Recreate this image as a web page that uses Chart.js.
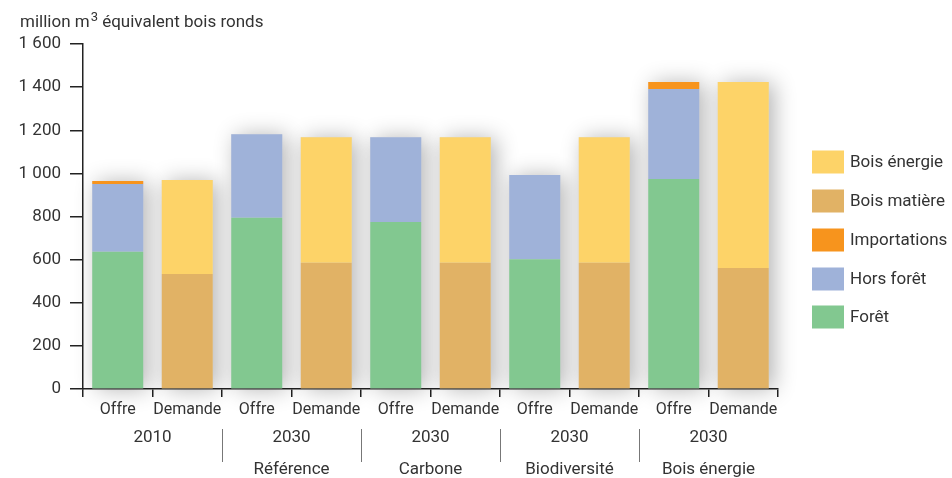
<!DOCTYPE html>
<html>
<head>
<meta charset="utf-8">
<script src="https://cdn.jsdelivr.net/npm/chart.js@4.4.1/dist/chart.umd.min.js"></script>
<style>
  body { margin: 0; background: #fff; }
  #wrap { width: 952px; height: 478px; position: relative; }
</style>
</head>
<body>
<div id="wrap"><canvas id="bois" width="952" height="478"></canvas></div>
<script>
// categories (bas de l'axe)
const categories = ['Offre', 'Demande', 'Offre', 'Demande', 'Offre', 'Demande', 'Offre', 'Demande', 'Offre', 'Demande'];
const annees = ['2010', '2030', '2030', '2030', '2030'];
const scenarios = ['', 'Référence', 'Carbone', 'Biodiversité', 'Bois énergie'];

// valeurs en million m3
const foret       = [637, null, 794, null, 774, null, 602, null, 974, null];
const horsForet   = [314, null, 388, null, 394, null, 390, null, 417, null];
const importations= [14,  null, 0,   null, 0,   null, 0,   null, 33,  null];
const boisMatiere = [null, 533, null, 585, null, 585, null, 585, null, 561];
const boisEnergie = [null, 436, null, 583, null, 583, null, 583, null, 863];

const yTicks = [0, 200, 400, 600, 800, 1000, 1200, 1400, 1600];

const couleurs = {
  foret: '#82c890',
  hors: '#9fb2d9',
  imp: '#f7941d',
  matiere: '#e1b265',
  energie: '#fdd368'
};

const legende = [
  ['Bois énergie', couleurs.energie],
  ['Bois matière', couleurs.matiere],
  ['Importations', couleurs.imp],
  ['Hors forêt', couleurs.hors],
  ['Forêt', couleurs.foret]
];

const police = 'Roboto, "Liberation Sans", sans-serif';
const texte = '#333';

function sepMilliers(v) {
  return String(v).replace(/\B(?=(\d{3})+(?!\d))/g, ' ');
}

// ombre portée derrière chaque pile de barres
const ombre = {
  id: 'ombre',
  beforeDatasetsDraw(chart) {
    const ctx = chart.ctx;
    const n = categories.length;
    ctx.save();
    ctx.fillStyle = '#dcdde0';
    ctx.shadowColor = 'rgba(0,0,0,0.30)';
    ctx.shadowBlur = 22;
    ctx.shadowOffsetX = 5;
    ctx.shadowOffsetY = 1;
    for (let i = 0; i < n; i++) {
      let top = Infinity, base = -Infinity, x = null, w = null;
      chart.data.datasets.forEach((ds, d) => {
        const el = chart.getDatasetMeta(d).data[i];
        if (ds.data[i] == null || !el) return;
        top = Math.min(top, el.y, el.base);
        base = Math.max(base, el.y, el.base);
        x = el.x; w = el.width;
      });
      if (x == null) continue;
      ctx.fillRect(x - w / 2, top, w, base - top);
    }
    ctx.restore();
  }
};

// titre, légende, libellés de groupes
const decor = {
  id: 'decor',
  afterDraw(chart) {
    const ctx = chart.ctx;
    const xs = chart.scales.x;
    ctx.save();
    ctx.fillStyle = texte;
    ctx.textBaseline = 'alphabetic';
    ctx.textAlign = 'left';
    // titre de l'axe
    ctx.font = '17px ' + police;
    let tx = 20;
    ctx.fillText('million m', tx, 27);
    tx += ctx.measureText('million m').width + 1;
    ctx.font = '13px ' + police;
    ctx.fillText('3', tx, 21);
    tx += ctx.measureText('3').width;
    ctx.font = '17px ' + police;
    ctx.fillText(' équivalent bois ronds', tx, 27);

    // légende
    const ly = [162, 201, 240, 279, 317];
    ctx.font = '17px ' + police;
    ctx.textBaseline = 'middle';
    legende.forEach((l, k) => {
      ctx.fillStyle = l[1];
      ctx.fillRect(812, ly[k] - 11.5, 32, 23);
      ctx.fillStyle = texte;
      ctx.fillText(l[0], 850, ly[k] + 1);
    });

    // années et scénarios
    ctx.textAlign = 'center';
    for (let g = 0; g < annees.length; g++) {
      const xc = (xs.getPixelForValue(2 * g) + xs.getPixelForValue(2 * g + 1)) / 2;
      ctx.fillText(annees[g], xc, 438);
      if (scenarios[g]) ctx.fillText(scenarios[g], xc, 470);
    }
    // séparateurs
    ctx.strokeStyle = '#777';
    ctx.lineWidth = 1;
    for (let g = 1; g < annees.length; g++) {
      const xb = Math.round((xs.getPixelForValue(2 * g - 1) + xs.getPixelForValue(2 * g)) / 2) + 0.5;
      ctx.beginPath();
      ctx.moveTo(xb, 429);
      ctx.lineTo(xb, 462);
      ctx.stroke();
    }
    ctx.restore();
  }
};

const commun = { stack: 'a', borderWidth: 0, barPercentage: 0.734, categoryPercentage: 1 };

new Chart(document.getElementById('bois'), {
  type: 'bar',
  data: {
    labels: categories,
    datasets: [
      Object.assign({ label: 'Forêt', data: foret, backgroundColor: couleurs.foret }, commun),
      Object.assign({ label: 'Hors forêt', data: horsForet, backgroundColor: couleurs.hors }, commun),
      Object.assign({ label: 'Importations', data: importations, backgroundColor: couleurs.imp }, commun),
      Object.assign({ label: 'Bois matière', data: boisMatiere, backgroundColor: couleurs.matiere }, commun),
      Object.assign({ label: 'Bois énergie', data: boisEnergie, backgroundColor: couleurs.energie }, commun)
    ]
  },
  options: {
    responsive: false,
    animation: false,
    devicePixelRatio: 1,
    layout: { padding: { top: 44, right: 174, bottom: 0, left: 0 } },
    plugins: { legend: { display: false }, tooltip: { enabled: false } },
    scales: {
      x: {
        stacked: true,
        afterFit: s => { s.height = 89; },
        grid: { drawOnChartArea: false, tickLength: 8, color: '#222', lineWidth: 1.5, offset: true },
        border: { color: '#222', width: 1.5 },
        ticks: { color: texte, font: { family: police, size: 16 }, padding: 3, maxRotation: 0, autoSkip: false }
      },
      y: {
        stacked: true,
        min: 0,
        max: 1600,
        afterFit: s => { s.width = 83; },
        afterBuildTicks: s => { s.ticks = yTicks.map(v => ({ value: v })); },
        grid: { drawOnChartArea: false, tickLength: 13, color: '#222', lineWidth: 1.5 },
        border: { color: '#222', width: 1.5 },
        ticks: { color: texte, font: { family: police, size: 17 }, padding: 9, callback: v => sepMilliers(v) }
      }
    }
  },
  plugins: [ombre, decor]
});
</script>
</body>
</html>
